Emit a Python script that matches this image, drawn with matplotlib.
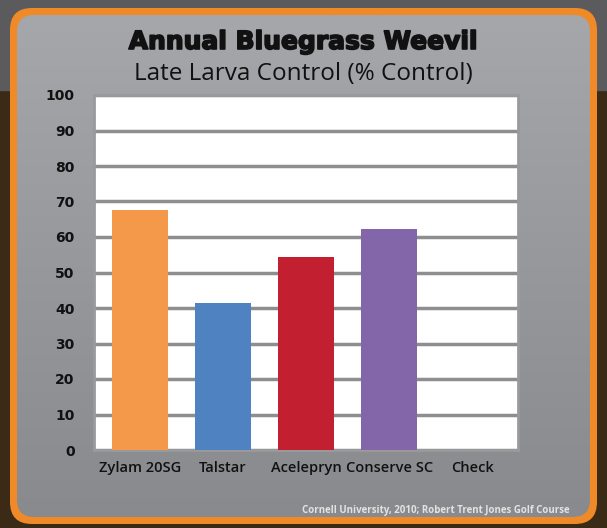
import numpy as np
import matplotlib.pyplot as plt
import matplotlib.patheffects as pe
from matplotlib.colors import LinearSegmentedColormap
from matplotlib.patches import FancyBboxPatch, Rectangle

categories = ['Zylam 20SG', 'Talstar', 'Acelepryn', 'Conserve SC', 'Check']
control = [67.5, 41.3, 54.3, 62.2, 0]
bar_colors = ['#f4994a', '#4f82c1', '#c21f30', '#8366a9', '#ffffff']
yticks = list(range(0, 101, 10))

W, H = 607, 528
fig = plt.figure(figsize=(W / 100, H / 100), dpi=100)

# background: dark top band and brown lower area
bg = fig.add_axes([0, 0, 1, 1], zorder=-10)
bg.set_xlim(0, W)
bg.set_ylim(H, 0)
bg.axis('off')
bg.add_patch(Rectangle((0, 0), W, H, color='#3b2a16'))
bg.add_patch(Rectangle((0, 0), W, 90, color='#5b5b5d'))

# orange rounded frame with gray gradient panel
frame = FancyBboxPatch((10, 8), W - 20, H - 12, boxstyle='round,pad=0,rounding_size=22',
                       facecolor='#f08a28', edgecolor='none')
bg.add_patch(frame)
panel = FancyBboxPatch((17, 15), W - 34, H - 26, boxstyle='round,pad=0,rounding_size=17',
                       facecolor='none', edgecolor='none')
bg.add_patch(panel)
grad = np.linspace(0, 1, 256).reshape(-1, 1)
cmap = LinearSegmentedColormap.from_list('g', ['#a6a7aa', '#97989c', '#898a8e'])
img = bg.imshow(grad, extent=(17, W - 17, H - 11, 15), cmap=cmap, aspect='auto', zorder=1)
img.set_clip_path(panel)

fig.text(0.5, 1 - 42 / H, 'Annual Bluegrass Weevil', ha='center', va='center',
         fontsize=18, fontweight='bold', color='#111111', family='DejaVu Sans',
         path_effects=[pe.withStroke(linewidth=1.2, foreground='#111111')])
fig.text(0.5, 1 - 74 / H, 'Late Larva Control (% Control)', ha='center', va='center',
         fontsize=17.5, color='#111111', family='Open Sans')
fig.text(1 - 37 / W, 1 - 511 / H, 'Cornell University, 2010; Robert Trent Jones Golf Course',
         ha='right', va='center', fontsize=7, fontweight='bold', color='#e2e2e2', family='Open Sans')

# plot area
x0, x1, y0, y1 = 94, 518, 95, 450
ax = fig.add_axes([x0 / W, 1 - y1 / H, (x1 - x0) / W, (y1 - y0) / H])
ax.set_facecolor('white')
x = np.arange(len(categories))
ax.bar(x, control, width=0.67, color=bar_colors, zorder=3)
ax.set_xlim(-0.55, len(categories) - 0.45)
ax.set_ylim(0, 100)
ax.set_yticks(yticks)
ax.set_yticklabels([str(t) for t in yticks], fontsize=10, fontweight='bold', color='#111111')
ax.set_xticks(x)
ax.set_xticklabels(categories, fontsize=10.5, fontweight='semibold', color='#111111', family='Open Sans')
ax.tick_params(length=0, pad=8)
ax.tick_params(axis='y', pad=14)
ax.yaxis.grid(True, color='#8e8e90', linewidth=2.5, zorder=0)
for s in ax.spines.values():
    s.set_color('#9a9a9c')
    s.set_linewidth(2)

fig.savefig('out.png', dpi=100)
